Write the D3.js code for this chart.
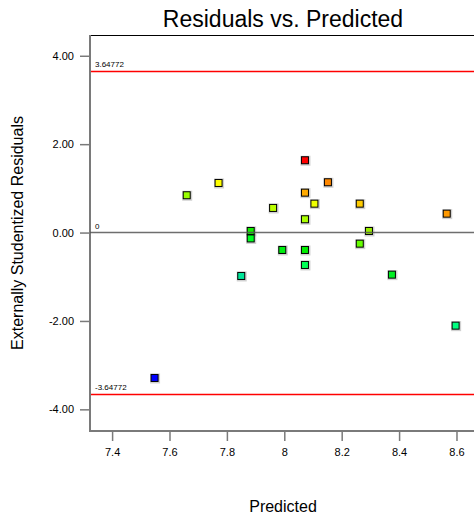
<!DOCTYPE html>
<html>
<head>
<meta charset="utf-8">
<script src="https://cdn.jsdelivr.net/npm/d3@7"></script>
<style>
  body { margin: 0; background: #fff; }
  text { font-family: "Liberation Sans", Arial, sans-serif; }
</style>
</head>
<body>
<div id="chart"></div>
<script>
// data
const predicted = [7.548, 7.660, 7.771, 7.850, 7.883, 7.883, 7.961, 7.993, 8.072, 8.072, 8.072,
  8.072, 8.072, 8.105, 8.152, 8.263, 8.263, 8.295, 8.375, 8.566, 8.597];
const residuals = [-3.29, 0.844, 1.122, -0.982, 0.036, -0.133, 0.557, -0.394, 1.636, 0.903, 0.301,
  -0.394, -0.733, 0.654, 1.138, 0.654, -0.251, 0.036, -0.952, 0.428, -2.106];
const pointColors = ["#0000ff", "#99ff00", "#ffff00", "#00e699", "#11ee00", "#00ff22", "#bbff00",
  "#00ee11", "#ff0000", "#ffaa00", "#aaff00", "#00ee00", "#00ff55", "#eeff00", "#ff8800",
  "#ffcc00", "#66ff00", "#99ee00", "#00ee22", "#ff9900", "#00ff80"];
const xTicks = [7.4, 7.6, 7.8, 8.0, 8.2, 8.4, 8.6];
const yTicks = [-4, -2, 0, 2, 4];
const limit = 3.64772;

const width = 474;
const height = 516;
const plotLeft = 90, plotRight = 476, plotTop = 35, plotBottom = 431;
const gray = "#7a7a7a";

const svg = d3.select("#chart").append("svg")
  .attr("width", width).attr("height", height);

const x = d3.scaleLinear().domain([7.323, 8.668]).range([plotLeft, plotRight]);
const y = d3.scaleLinear().domain([-4.49, 4.47]).range([plotBottom, plotTop]);

// title
svg.append("text")
  .attr("x", (plotLeft + plotRight) / 2).attr("y", 27)
  .attr("text-anchor", "middle")
  .attr("font-size", 23)
  .text("Residuals vs. Predicted");

// axis titles
svg.append("text")
  .attr("x", (plotLeft + plotRight) / 2).attr("y", 512)
  .attr("text-anchor", "middle")
  .attr("font-size", 16)
  .text("Predicted");

svg.append("text")
  .attr("transform", `translate(23,${(plotTop + plotBottom) / 2}) rotate(-90)`)
  .attr("text-anchor", "middle")
  .attr("font-size", 16)
  .text("Externally Studentized Residuals");

// axes
const xAxis = svg.append("g")
  .attr("transform", `translate(0,${plotBottom})`)
  .call(d3.axisBottom(x).tickValues(xTicks).tickSize(10).tickPadding(7)
    .tickFormat(d => String(+d.toFixed(1))));

const yAxis = svg.append("g")
  .attr("transform", `translate(${plotLeft},0)`)
  .call(d3.axisLeft(y).tickValues(yTicks).tickSize(10).tickPadding(6)
    .tickFormat(d => d.toFixed(2)));

[xAxis, yAxis].forEach(g => {
  g.select(".domain").remove();
  g.selectAll(".tick line").attr("stroke", gray).attr("stroke-width", 1.5);
  g.selectAll(".tick text").attr("fill", "#000").attr("font-size", 11)
    .attr("font-family", "Liberation Sans, Arial, sans-serif");
});

// frame
svg.append("line")
  .attr("x1", plotLeft).attr("x2", plotRight).attr("y1", plotTop + 0.5).attr("y2", plotTop + 0.5)
  .attr("stroke", "#000").attr("stroke-width", 1);
svg.append("line")
  .attr("x1", plotLeft).attr("x2", plotLeft).attr("y1", plotTop).attr("y2", plotBottom + 1)
  .attr("stroke", gray).attr("stroke-width", 2);
svg.append("line")
  .attr("x1", plotLeft).attr("x2", plotRight).attr("y1", plotBottom).attr("y2", plotBottom)
  .attr("stroke", gray).attr("stroke-width", 2);

// limit lines
[limit, -limit].forEach(v => {
  const ly = Math.round(y(v)) + 0.5;
  svg.append("line")
    .attr("x1", plotLeft + 1).attr("x2", plotRight).attr("y1", ly).attr("y2", ly)
    .attr("stroke", "#ff0000").attr("stroke-width", 1.3);
  svg.append("text")
    .attr("x", plotLeft + 5).attr("y", ly - 4.5)
    .attr("font-size", 8)
    .text(v.toFixed(5));
});

// points
const pts = predicted.map((p, i) => ({ p, r: residuals[i], c: pointColors[i] }));

svg.append("g").selectAll("rect")
  .data(pts).enter().append("rect")
  .attr("x", d => x(d.p) - 4.5).attr("y", d => y(d.r) - 4.5)
  .attr("width", 10).attr("height", 10)
  .attr("fill", "#999").attr("opacity", 0.45);

svg.append("g").selectAll("rect")
  .data(pts).enter().append("rect")
  .attr("x", d => x(d.p) - 3.5).attr("y", d => y(d.r) - 3.5)
  .attr("width", 7).attr("height", 7)
  .attr("fill", d => d.c)
  .attr("stroke", "#000").attr("stroke-width", 1);

// zero line
svg.append("line")
  .attr("x1", plotLeft).attr("x2", plotRight).attr("y1", y(0)).attr("y2", y(0))
  .attr("stroke", "#555").attr("stroke-width", 1.5).attr("opacity", 0.85);
svg.append("text")
  .attr("x", plotLeft + 5).attr("y", y(0) - 4)
  .attr("font-size", 8)
  .text("0");
</script>
</body>
</html>
